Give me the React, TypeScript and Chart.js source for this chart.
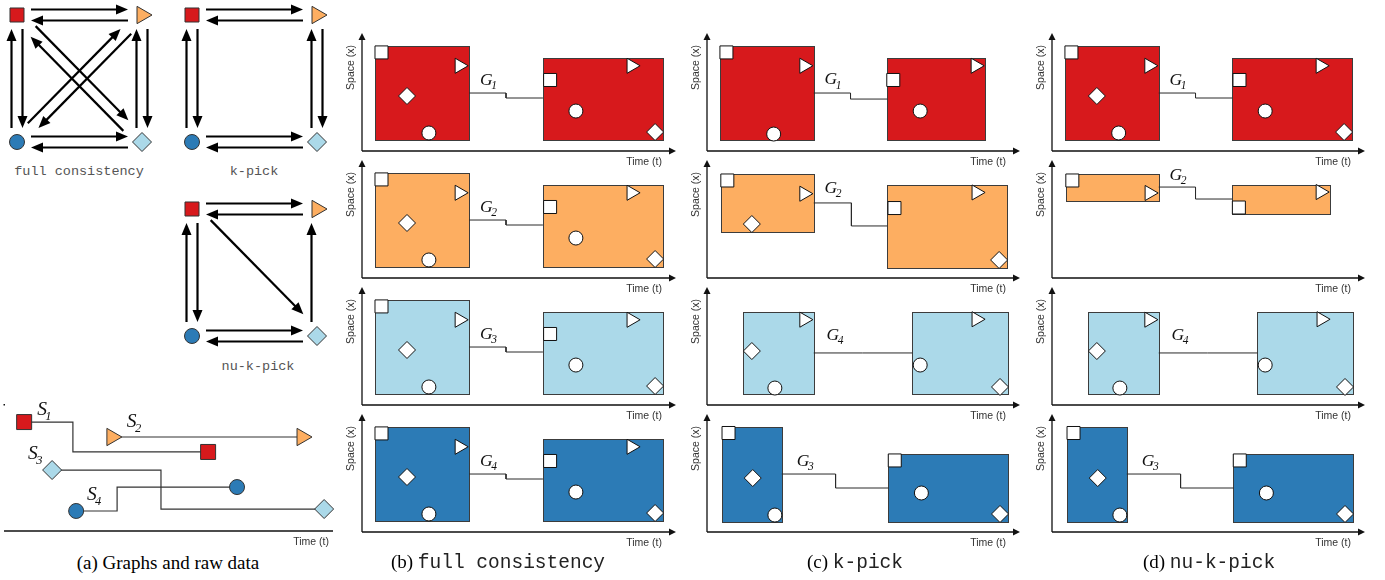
import React, { useEffect, useRef } from 'react';
import { Chart, registerables } from 'chart.js';
Chart.register(...registerables);

// ---------------- DATA ----------------
// Stream colours S1..S4 (red square, orange triangle, light-blue diamond, dark-blue circle)
const streamColors = ['#d7191c', '#fdae61', '#abd9e9', '#2c7bb6'];
const panelNames = ['full consistency', 'k-pick', 'nu-k-pick'];
const panelLetters = ['(b)', '(c)', '(d)'];
const groupIndexB = ['1', '2', '3', '4'];
const groupIndexC = ['1', '2', '4', '3'];
const groupIndexD = ['1', '2', '4', '3'];

// Panel (a): raw trajectories [time, space]
const s1Path = [[6.2, 83.8], [21.2, 83.8], [21.2, 60.8], [62.8, 60.8]];
const s2Path = [[33.2, 72.3], [91.7, 72.3]];
const s3Path = [[14.8, 46.9], [48.3, 46.9], [48.3, 16.9], [98.5, 16.9]];
const s4Path = [[22.2, 15.4], [34.8, 15.4], [34.8, 33.8], [71.7, 33.8]];
const rawLabelPos = [[10.2, 89.2], [37.8, 80], [7.4, 55.4], [25.5, 23.8]];

// Panel (a): consistency graphs; nodes S1 (top-left), S2 (top-right), S3 (bottom-right), S4 (bottom-left)
const graphNodes = [[0, 1], [1, 1], [1, 0], [0, 0]];
const fullEdges = [[0, 1], [1, 0], [1, 2], [2, 1], [2, 3], [3, 2], [3, 0], [0, 3], [0, 2], [2, 0], [1, 3], [3, 1]];
const kPickEdges = [[0, 1], [1, 0], [1, 2], [2, 1], [2, 3], [3, 2], [3, 0], [0, 3]];
const nuKPickEdges = [[0, 1], [1, 0], [2, 1], [2, 3], [3, 2], [3, 0], [0, 3], [0, 2]];

// Group boxes: [tStart, tEnd, xLow, xHigh]; points: [t, x]
const fullBoxes = [[4.3, 35.7, 10.4, 99.1], [60.3, 100.3, 10.4, 87.7]];
const fullSquares = [[6.5, 93], [62.7, 67]];
const fullTriangles = [[32.5, 80.4], [89.8, 80.4]];
const fullDiamonds = [[15, 51.9], [97.7, 17.9]];
const fullCircles = [[22.3, 17], [71.3, 37.7]];
const fullLink = [[35.7, 54.7], [48, 54.7], [48, 50], [60.3, 50]];
const fullLabel = [39.3, 62.3];

const kRedBoxes = [[4.3, 35.7, 10.4, 99.1], [60.3, 93, 10.4, 88]];
const kRedSquares = [[6.5, 93], [62.3, 67]];
const kRedTriangles = [[32.5, 80.4], [89.8, 80.4]];
const kRedCircles = [[22.3, 16], [71.3, 37.7]];
const kRedLink = [[35.7, 54.7], [48, 54.7], [48, 49], [60.3, 49]];
const kRedLabel = [39.3, 63];

const kOrangeBoxes = [[4.7, 35.7, 43.4, 98.1], [60.3, 100.3, 9.4, 87.7]];
const kOrangeSquares = [[6.8, 92], [62.7, 66]];
const kOrangeTriangles = [[32.5, 79.5], [90.1, 80.7]];
const kOrangeDiamonds = [[15, 50.9], [97.7, 17]];
const kOrangeLink = [[35.7, 70.8], [48.3, 70.8], [48.3, 49.1], [60.3, 49.1]];
const kOrangeLabel = [39.3, 80.2];

const nuOrangeBoxes = [[4.7, 35.7, 72.6, 98.1], [60.3, 93, 60.4, 87.7]];
const nuOrangeSquares = [[6.8, 92], [62.5, 66.5]];
const nuOrangeTriangles = [[32.6, 80.2], [89.8, 81.1]];
const nuOrangeLink = [[35.7, 85.8], [48, 85.8], [48, 74.5], [60.3, 74.5]];
const nuOrangeLabel = [39.3, 92.5];

const kLightBoxes = [[12, 35.7, 10.4, 87.7], [68.7, 100.7, 10.4, 87.7]];
const kLightTriangles = [[32.5, 80.5], [90.1, 80.9]];
const kLightDiamonds = [[15, 50.9], [98, 17]];
const kLightCircles = [[22.7, 16], [71.3, 37.7]];
const kLightLink = [[35.7, 49.1], [52, 49.1], [68.7, 49.1]];
const kLightLabel = [40, 61.3];

const kDarkBoxes = [[5, 25, 9.4, 99.1], [60.7, 100.7, 9.4, 73.6]];
const kDarkSquares = [[7.2, 93.4], [62.8, 67.5]];
const kDarkDiamonds = [[15.3, 50.9], [98, 17]];
const kDarkCircles = [[22.7, 16], [71.7, 36.8]];
const kDarkLink = [[25, 54.7], [43, 54.7], [43, 41.5], [60.7, 41.5]];
const kDarkLabel = [30, 62.3];

// ---------------- STYLE / LAYOUT ----------------
const SANS = '"Liberation Sans", Arial, sans-serif';
const SERIF = '"Liberation Serif", "Times New Roman", serif';
const MONO = '"Liberation Mono", "Courier New", monospace';

type Sub = {
  boxes: number[][]; squares: number[][]; triangles: number[][]; diamonds: number[][];
  circles: number[][]; link: number[][]; label: number[];
};

const fullSet: Sub = { boxes: fullBoxes, squares: fullSquares, triangles: fullTriangles, diamonds: fullDiamonds, circles: fullCircles, link: fullLink, label: fullLabel };
const kRed: Sub = { boxes: kRedBoxes, squares: kRedSquares, triangles: kRedTriangles, diamonds: [], circles: kRedCircles, link: kRedLink, label: kRedLabel };
const kOrange: Sub = { boxes: kOrangeBoxes, squares: kOrangeSquares, triangles: kOrangeTriangles, diamonds: kOrangeDiamonds, circles: [], link: kOrangeLink, label: kOrangeLabel };
const nuOrange: Sub = { boxes: nuOrangeBoxes, squares: nuOrangeSquares, triangles: nuOrangeTriangles, diamonds: [], circles: [], link: nuOrangeLink, label: nuOrangeLabel };
const kLight: Sub = { boxes: kLightBoxes, squares: [], triangles: kLightTriangles, diamonds: kLightDiamonds, circles: kLightCircles, link: kLightLink, label: kLightLabel };
const kDark: Sub = { boxes: kDarkBoxes, squares: kDarkSquares, triangles: [], diamonds: kDarkDiamonds, circles: kDarkCircles, link: kDarkLink, label: kDarkLabel };

const rowAxisY = [151, 278, 405, 532];
const columns = [
  { ax: 362, tx: 662, sets: [fullSet, fullSet, fullSet, fullSet], groups: groupIndexB },
  { ax: 707, tx: 1006, sets: [kRed, kOrange, kLight, kDark], groups: groupIndexC },
  { ax: 1052, tx: 1351, sets: [fullSet, nuOrange, kLight, kDark], groups: groupIndexD },
];

const toXY = (a: number[][]) => a.map(([x, y]) => ({ x, y }));

function arrowHead(ctx: CanvasRenderingContext2D, x: number, y: number, ux: number, uy: number, len: number, half: number) {
  ctx.beginPath();
  ctx.moveTo(x, y);
  ctx.lineTo(x - ux * len - uy * half, y - uy * len + ux * half);
  ctx.lineTo(x - ux * len + uy * half, y - uy * len - ux * half);
  ctx.closePath();
  ctx.fill();
}

function subLabel(ctx: CanvasRenderingContext2D, main: string, sub: string, x: number, y: number, size: number, subSize: number) {
  ctx.save();
  ctx.fillStyle = '#111';
  ctx.textAlign = 'left';
  ctx.textBaseline = 'alphabetic';
  ctx.font = `italic ${size}px ${SERIF}`;
  ctx.fillText(main, x, y);
  const w = ctx.measureText(main).width;
  ctx.font = `italic ${subSize}px ${SERIF}`;
  ctx.fillText(sub, x + w - size * 0.08, y + size * 0.25);
  ctx.restore();
}

function marker(points: number[][], style: string, radius: number, rotation: number, fill = '#ffffff') {
  return {
    type: 'scatter', data: toXY(points), showLine: false, pointStyle: style, pointRadius: radius,
    pointHoverRadius: radius, pointRotation: rotation, pointBackgroundColor: fill,
    pointBorderColor: '#111', pointBorderWidth: 1, clip: false, order: 1,
  };
}

function axisScale(title: string, which: 'x' | 'y', max = 100) {
  return {
    type: 'linear', min: 0, max, display: true, offset: false,
    grid: { display: false, drawTicks: false }, border: { display: false },
    ticks: { display: false },
    title: { display: true, text: title, align: 'end', color: '#333', font: { family: SANS, size: 10.5 }, padding: 0 },
    afterFit: (s: any) => { if (which === 'x') s.height = 17; else s.width = 17; },
  };
}

const baseOptions = {
  animation: false, responsive: false, maintainAspectRatio: false, devicePixelRatio: 1, events: [],
};

function buildSubplot(canvas: HTMLCanvasElement, sp: Sub, color: string, group: string) {
  const plugin = {
    id: 'groups',
    beforeDatasetsDraw(chart: any) {
      const { ctx, chartArea: ca, scales } = chart;
      const xs = scales.x, ys = scales.y;
      ctx.save();
      ctx.strokeStyle = '#111'; ctx.fillStyle = '#111'; ctx.lineWidth = 1.3;
      ctx.beginPath();
      ctx.moveTo(ca.left, ca.bottom); ctx.lineTo(ca.left, ca.top - 6);
      ctx.moveTo(ca.left, ca.bottom); ctx.lineTo(ca.right + 8, ca.bottom);
      ctx.stroke();
      arrowHead(ctx, ca.left, ca.top - 12, 0, -1, 7, 3.5);
      arrowHead(ctx, ca.right + 14, ca.bottom, 1, 0, 7, 3.5);
      for (const [t0, t1, x0, x1] of sp.boxes) {
        const a = Math.round(xs.getPixelForValue(t0)) + 0.5;
        const b = Math.round(xs.getPixelForValue(t1)) + 0.5;
        const c = Math.round(ys.getPixelForValue(x1)) + 0.5;
        const d = Math.round(ys.getPixelForValue(x0)) + 0.5;
        ctx.fillStyle = color;
        ctx.fillRect(a, c, b - a, d - c);
        ctx.strokeStyle = '#3c3c3c'; ctx.lineWidth = 1;
        ctx.strokeRect(a, c, b - a, d - c);
      }
      ctx.restore();
    },
    afterDatasetsDraw(chart: any) {
      const { ctx, scales } = chart;
      subLabel(ctx, 'G', group, scales.x.getPixelForValue(sp.label[0]), scales.y.getPixelForValue(sp.label[1]), 17.5, 11.5);
    },
  };
  return new Chart(canvas, {
    type: 'scatter',
    data: {
      datasets: [
        { type: 'line', data: toXY(sp.link), borderColor: '#2a2a2a', borderWidth: 1, pointRadius: 0, fill: false, clip: false, order: 2 },
        marker(sp.squares, 'rect', 9.2, 0),
        marker(sp.triangles, 'triangle', 8.7, 90),
        marker(sp.diamonds, 'rectRot', 8.5, 0),
        marker(sp.circles, 'circle', 7, 0),
      ] as any,
    },
    options: {
      ...baseOptions,
      layout: { padding: { top: 14, right: 16, left: 0, bottom: 0 }, autoPadding: false },
      plugins: { legend: { display: false }, tooltip: { enabled: false } },
      scales: { x: axisScale('Time (t)', 'x'), y: axisScale('Space (x)', 'y') },
    } as any,
    plugins: [plugin],
  });
}

const nodeStyles = ['rect', 'triangle', 'rectRot', 'circle'];
const nodeRadii = [9.9, 10, 9.5, 7.5];
const nodeRotation = [0, 90, 0, 0];

function buildGraph(canvas: HTMLCanvasElement, edges: number[][]) {
  const plugin = {
    id: 'edges',
    beforeDatasetsDraw(chart: any) {
      const { ctx, scales } = chart;
      ctx.save();
      ctx.strokeStyle = '#000'; ctx.fillStyle = '#000'; ctx.lineWidth = 2.2;
      for (const [from, to] of edges) {
        const ax = scales.x.getPixelForValue(graphNodes[from][0]);
        const ay = scales.y.getPixelForValue(graphNodes[from][1]);
        const bx = scales.x.getPixelForValue(graphNodes[to][0]);
        const by = scales.y.getPixelForValue(graphNodes[to][1]);
        const L = Math.hypot(bx - ax, by - ay);
        const ux = (bx - ax) / L, uy = (by - ay) / L;
        const nx = uy, ny = -ux;
        const diag = Math.abs(ux) > 0.3 && Math.abs(uy) > 0.3;
        const gap0 = diag ? 21 : 14, gap1 = diag ? 25 : 14;
        const off = 5.5;
        const sx = ax + ux * gap0 + nx * off, sy = ay + uy * gap0 + ny * off;
        const ex = bx - ux * gap1 + nx * off, ey = by - uy * gap1 + ny * off;
        ctx.beginPath();
        ctx.moveTo(sx, sy);
        ctx.lineTo(ex - ux * 9, ey - uy * 9);
        ctx.stroke();
        arrowHead(ctx, ex, ey, ux, uy, 12, 5);
      }
      ctx.restore();
    },
  };
  return new Chart(canvas, {
    type: 'scatter',
    data: {
      datasets: [{
        data: toXY(graphNodes), pointStyle: nodeStyles, pointRadius: nodeRadii, pointHoverRadius: nodeRadii,
        pointRotation: nodeRotation, pointBackgroundColor: streamColors, pointBorderColor: '#333',
        pointBorderWidth: 1, clip: false,
      }] as any,
    },
    options: {
      ...baseOptions,
      layout: { padding: 14, autoPadding: false },
      plugins: { legend: { display: false }, tooltip: { enabled: false } },
      scales: {
        x: { type: 'linear', min: 0, max: 1, display: false },
        y: { type: 'linear', min: 0, max: 1, display: false },
      },
    } as any,
    plugins: [plugin],
  });
}

const rawPaths = [s1Path, s2Path, s3Path, s4Path];
const rawRadii = [10.6, 10, 9.5, 7.5];

function buildRaw(canvas: HTMLCanvasElement) {
  const plugin = {
    id: 'rawAxis',
    beforeDatasetsDraw(chart: any) {
      const { ctx, chartArea: ca } = chart;
      ctx.save();
      ctx.strokeStyle = '#111'; ctx.lineWidth = 1.3;
      ctx.beginPath(); ctx.moveTo(ca.left, ca.bottom); ctx.lineTo(ca.right + 4, ca.bottom); ctx.stroke();
      ctx.fillStyle = '#111';
      ctx.fillRect(ca.left - 0.5, ca.top + 3, 1.5, 1.5);
      ctx.restore();
    },
    afterDatasetsDraw(chart: any) {
      const { ctx, scales } = chart;
      rawLabelPos.forEach(([t, x], i) =>
        subLabel(ctx, 'S', String(i + 1), scales.x.getPixelForValue(t), scales.y.getPixelForValue(x), 19.5, 12.5));
    },
  };
  const datasets = rawPaths.map((p, i) => ({
    type: 'line', data: toXY(p), borderColor: '#333', borderWidth: 1.2, fill: false, clip: false,
    pointStyle: nodeStyles[i], pointRotation: nodeRotation[i], pointBackgroundColor: streamColors[i],
    pointBorderColor: '#333', pointBorderWidth: 1,
    pointRadius: (c: any) => (c.dataIndex === 0 || c.dataIndex === p.length - 1 ? rawRadii[i] : 0),
  }));
  return new Chart(canvas, {
    type: 'line',
    data: { datasets: datasets as any },
    options: {
      ...baseOptions,
      layout: { padding: { top: 16, right: 10, left: 4, bottom: 0 }, autoPadding: false },
      plugins: { legend: { display: false }, tooltip: { enabled: false } },
      scales: { x: axisScale('Time (t)', 'x'), y: { type: 'linear', min: 0, max: 100, display: false } },
    } as any,
    plugins: [plugin],
  });
}

function ChartBox({ left, top, width, height, build }: { left: number; top: number; width: number; height: number; build: (c: HTMLCanvasElement) => Chart }) {
  const ref = useRef<HTMLCanvasElement>(null);
  useEffect(() => {
    const chart = build(ref.current as HTMLCanvasElement);
    return () => chart.destroy();
  }, []);
  return <canvas ref={ref} width={width} height={height} style={{ position: 'absolute', left, top, width, height }} />;
}

const textStyle = (left: number, top: number, font: string, color = '#000'): React.CSSProperties => ({
  position: 'absolute', left, top, transform: 'translateX(-50%)', whiteSpace: 'nowrap', font, color, lineHeight: 1.2,
});

export default function App() {
  const graphs = [
    { left: 17, top: 15, edges: fullEdges },
    { left: 192, top: 15, edges: kPickEdges },
    { left: 192, top: 209, edges: nuKPickEdges },
  ];
  const graphLabels = [
    { x: 79, y: 164, text: panelNames[0] },
    { x: 254, y: 164, text: panelNames[1] },
    { x: 258, y: 359, text: panelNames[2] },
  ];
  const captionX = [498, 855, 1209];
  return (
    <div style={{ position: 'fixed', left: 0, top: 0, width: 1385, height: 580, background: '#fff', overflow: 'hidden' }}>
      {graphs.map((g, i) => (
        <ChartBox key={'g' + i} left={g.left - 14} top={g.top - 14} width={125 + 28} height={127 + 28}
          build={(c) => buildGraph(c, g.edges)} />
      ))}
      <ChartBox left={0} top={385} width={339} height={163} build={buildRaw} />
      {columns.map((col, ci) => col.sets.map((sp, ri) => (
        <ChartBox key={`s${ci}${ri}`} left={col.ax - 17} top={rowAxisY[ri] - 120}
          width={17 + (col.tx - col.ax) + 16} height={137}
          build={(c) => buildSubplot(c, sp, streamColors[ri], col.groups[ri])} />
      )))}
      {graphLabels.map((g, i) => (
        <div key={'gl' + i} style={textStyle(g.x, g.y, `13.5px ${MONO}`, '#555')}>{g.text}</div>
      ))}
      <div style={textStyle(168, 552, `19px ${SERIF}`)}>(a) Graphs and raw data</div>
      {panelLetters.map((l, i) => (
        <div key={'cap' + i} style={textStyle(captionX[i], 551, `19px ${SERIF}`)}>
          {l} <span style={{ fontFamily: MONO, fontSize: 19.5, color: '#222' }}>{panelNames[i]}</span>
        </div>
      ))}
    </div>
  );
}
